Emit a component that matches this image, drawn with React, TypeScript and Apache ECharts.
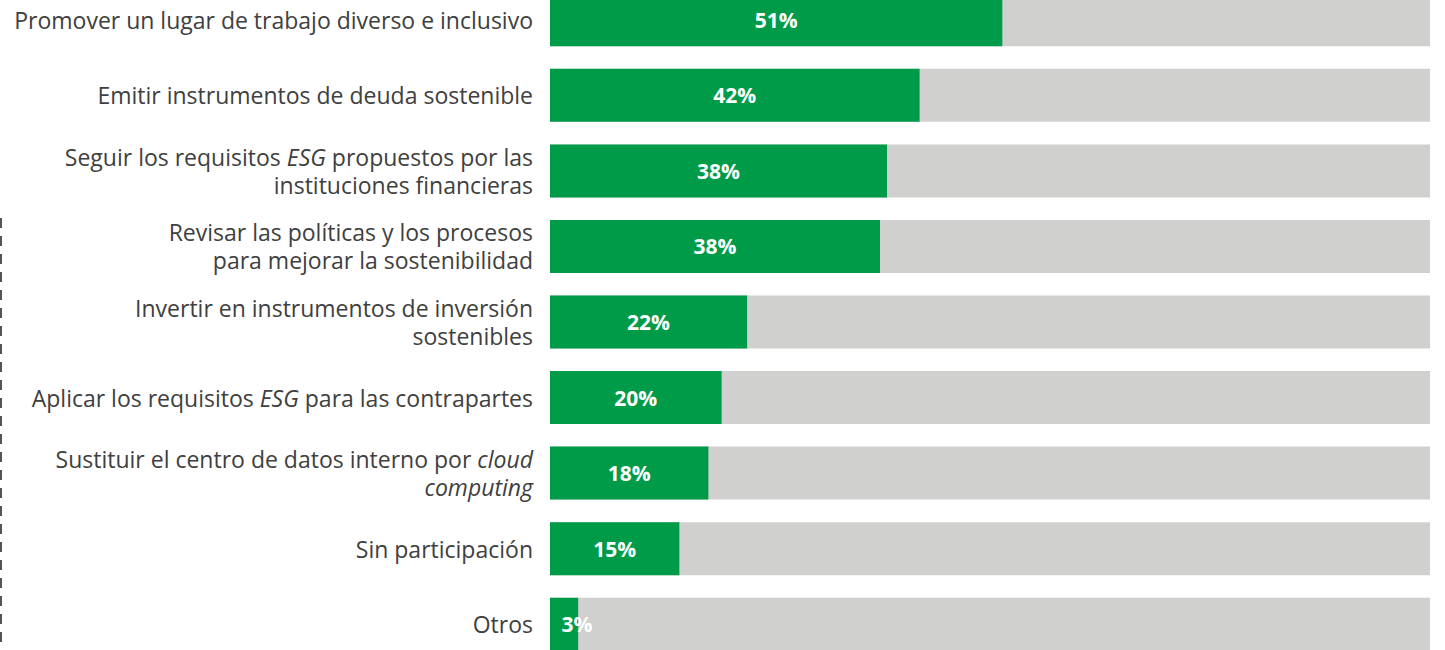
import React, { useEffect, useRef } from "react";
import * as echarts from "echarts";

const categories = [
  "Promover un lugar de trabajo diverso e inclusivo",
  "Emitir instrumentos de deuda sostenible",
  "Seguir los requisitos ESG propuestos por las\ninstituciones financieras",
  "Revisar las políticas y los procesos\npara mejorar la sostenibilidad",
  "Invertir en instrumentos de inversión\nsostenibles",
  "Aplicar los requisitos ESG para las contrapartes",
  "Sustituir el centro de datos interno por cloud\ncomputing",
  "Sin participación",
  "Otros",
];
const values = [51.4, 42, 38.3, 37.5, 22.4, 19.5, 18, 14.7, 3.2];
const labels = ["51%", "42%", "38%", "38%", "22%", "20%", "18%", "15%", "3%"];
const totals = categories.map(() => 100);
const italicWords = ["ESG", "cloud", "computing"];

const FONT = "'Open Sans', sans-serif";
const SHIFT = 18;

export default function App() {
  const ref = useRef<HTMLDivElement>(null);
  useEffect(() => {
    if (!ref.current) return;
    const chart = echarts.init(ref.current, undefined, { renderer: "svg" });
    const fmt = (v: string) => {
      let s = v;
      italicWords.forEach((w) => {
        s = s.split(w).join("{i|" + w + "}");
      });
      return s
        .split("\n")
        .map((line) => {
          const parts = line.split(/(\{i\|[^}]*\})/);
          return parts
            .filter((p) => p.length > 0)
            .map((p) => (p.startsWith("{i|") ? p : "{a|" + p + "}"))
            .join("");
        })
        .join("\n");
    };
    chart.setOption({
      animation: false,
      grid: { left: 550, right: 15, top: 0, bottom: 0, containLabel: false },
      xAxis: { type: "value", min: 0, max: 100, show: false },
      yAxis: {
        type: "category",
        inverse: true,
        data: categories,
        axisLine: { show: false },
        axisTick: { show: false },
        axisLabel: {
          margin: 17,
          align: "right",
          formatter: fmt,
          rich: {
            a: { fontFamily: FONT, fontSize: 23, color: "#404040", lineHeight: 28 },
            i: { fontFamily: FONT, fontSize: 23, color: "#404040", lineHeight: 28, fontStyle: "italic" },
          },
        },
      },
      series: [
        {
          type: "bar",
          data: totals,
          barWidth: 53,
          barGap: "-100%",
          itemStyle: { color: "#D0D0CE" },
          silent: true,
        },
        {
          type: "bar",
          data: values.map((v, i) =>
            i === values.length - 1
              ? { value: v, label: { offset: [13, 0] } }
              : v
          ),
          barWidth: 53,
          itemStyle: { color: "#009B48" },
          label: {
            show: true,
            position: "inside",
            formatter: (p: any) => labels[p.dataIndex],
            color: "#ffffff",
            fontFamily: FONT,
            fontWeight: "bold",
            fontSize: 21,
          },
        },
      ],
      graphic: [
        {
          type: "line",
          shape: { x1: 1, y1: 218 + SHIFT, x2: 1, y2: 650 + SHIFT },
          style: { stroke: "#555555", lineWidth: 2, lineDash: [10, 8] },
        },
      ],
    });
    return () => chart.dispose();
  }, []);
  return (
    <div
      ref={ref}
      style={{ width: 1445, height: 680, position: "absolute", left: 0, top: -SHIFT }}
    />
  );
}
